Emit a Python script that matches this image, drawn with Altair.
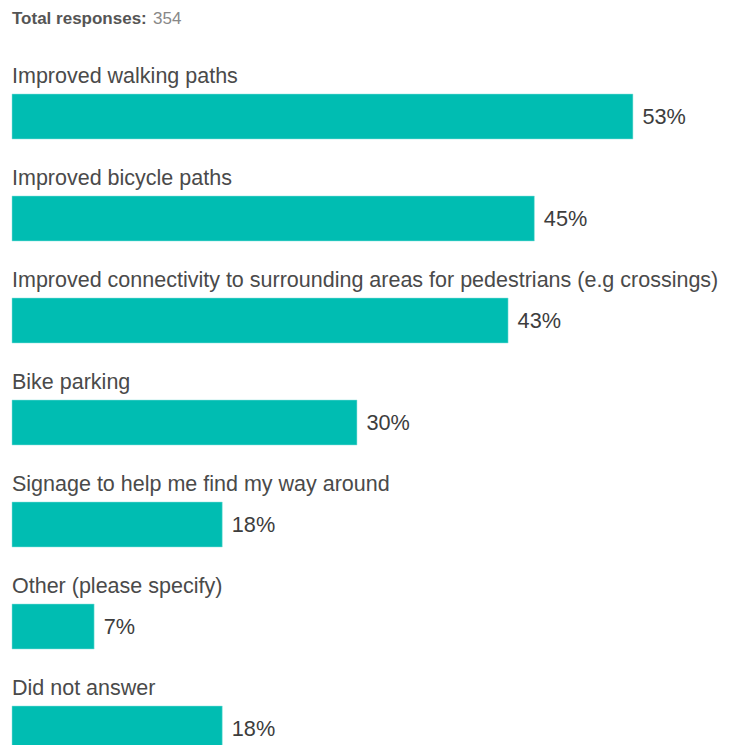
import altair as alt
import pandas as pd

categories = [
    "Improved walking paths",
    "Improved bicycle paths",
    "Improved connectivity to surrounding areas for pedestrians (e.g crossings)",
    "Bike parking",
    "Signage to help me find my way around",
    "Other (please specify)",
    "Did not answer",
]
counts = [189, 159, 151, 105, 64, 25, 64]
total = 354
header_label = "Total responses:"
header_value = str(total)

pct = [c / total * 100 for c in counts]
df = pd.DataFrame({
    "category": categories,
    "value": pct,
    "label": [f"{round(p)}%" for p in pct],
})

FONT = "Liberation Sans"
TEAL = "#00BDB2"

y_enc = alt.Y(
    "category:N",
    sort=categories,
    axis=None,
    scale=alt.Scale(range=[57.5, 771.5], paddingInner=0, paddingOuter=0),
)
x_scale = alt.Scale(domain=[0, 100], range=[0, 1163])

base = alt.Chart(df)

bars = base.mark_bar(color=TEAL, size=45, stroke="#8fe3dd", strokeWidth=0.5).encode(
    x=alt.X("value:Q", scale=x_scale, axis=None),
    y=y_enc,
)

cat_text = base.mark_text(
    align="left", baseline="alphabetic", dy=-34, font=FONT, fontSize=21.5, color="#4a4a4a"
).encode(
    x=alt.value(0),
    y=y_enc,
    text="category:N",
)

val_text = base.mark_text(
    align="left", baseline="middle", dx=9.5, font=FONT, fontSize=21.7, color="#3d3d3d"
).encode(
    x=alt.X("value:Q", scale=x_scale, axis=None),
    y=y_enc,
    text="label:N",
)

hdf = pd.DataFrame({"t1": [header_label], "t2": [header_value]})
h1 = alt.Chart(hdf).mark_text(
    align="left", baseline="alphabetic", font=FONT, fontSize=17, fontWeight="bold", color="#555555"
).encode(x=alt.value(0), y=alt.value(16), text="t1:N")
h2 = alt.Chart(hdf).mark_text(
    align="left", baseline="alphabetic", font=FONT, fontSize=17, color="#888888"
).encode(x=alt.value(141), y=alt.value(16), text="t2:N")

chart = alt.layer(bars, cat_text, val_text, h1, h2).properties(
    width=711,
    height=737,
    padding={"left": 4, "top": 0, "right": 0, "bottom": 0},
    autosize=alt.AutoSizeParams(type="none"),
).configure_view(stroke=None)

chart.save("out.html", embed_options={"renderer": "svg", "actions": False})
